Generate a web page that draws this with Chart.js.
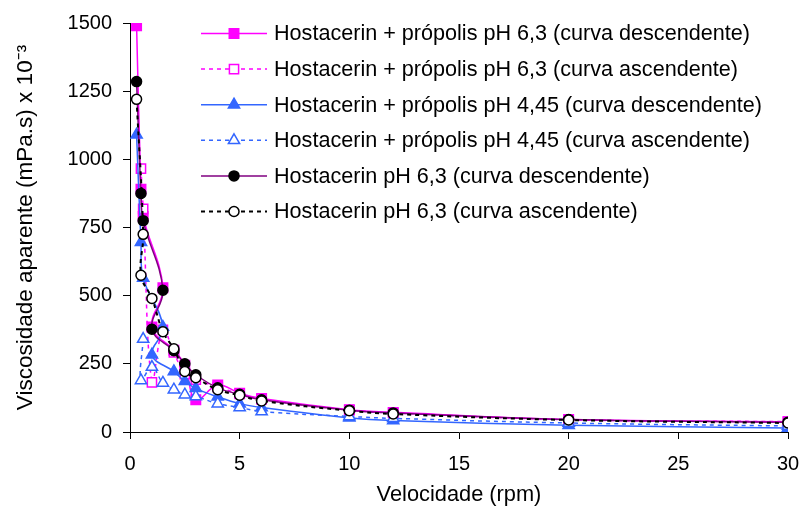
<!DOCTYPE html>
<html>
<head>
<meta charset="utf-8">
<script src="https://cdn.jsdelivr.net/npm/chart.js@4.4.1/dist/chart.umd.min.js"></script>
<style>
html,body{margin:0;padding:0;background:#fff;}
#wrap{width:802px;height:518px;}
</style>
</head>
<body>
<div id="wrap"><canvas id="c" width="802" height="518"></canvas></div>
<script>
// ---- Data ----
const seriesLabels = [
  'Hostacerin + própolis pH 6,3 (curva descendente)',
  'Hostacerin + própolis pH 6,3 (curva ascendente)',
  'Hostacerin + própolis pH 4,45 (curva descendente)',
  'Hostacerin + própolis pH 4,45 (curva ascendente)',
  'Hostacerin pH 6,3 (curva descendente)',
  'Hostacerin pH 6,3 (curva ascendente)'
];
// speeds (rpm), in the order the points are joined in the picture
const pinkDescX  = [0.3, 0.5, 0.6, 1.5, 1.0, 2.0, 2.5, 3.0, 4, 5, 6, 10, 12, 20, 30];
const pinkDescY  = [1490, 890, 790, 529, 385, 300, 245, 118, 172, 142, 123, 82, 72, 46, 38];
const pinkAscX   = [0.5, 0.6, 1.0, 1.5, 2.0, 2.5, 3.0, 4, 5, 6, 10, 12, 20, 30];
const pinkAscY   = [966, 818, 182, 375, 292, 212, 192, 165, 140, 120, 80, 70, 45, 38];
const blueDescX  = [0.3, 0.5, 0.6, 1.5, 1.0, 2.0, 2.5, 3.0, 4, 5, 6, 10, 12, 20, 30];
const blueDescY  = [1090, 696, 565, 385, 283, 222, 186, 160, 129, 104, 90, 52, 42, 25, 15];
const blueAscX   = [0.6, 0.5, 1.0, 1.5, 2.0, 2.5, 3.0, 4, 5, 6, 10, 12, 20, 30];
const blueAscY   = [341, 189, 238, 180, 155, 137, 130, 104, 90, 75, 57, 50, 33, 22];
const blackDescX = [0.3, 0.5, 0.6, 1.5, 1.0, 2.0, 2.5, 3.0, 4, 5, 6, 10, 12, 20, 30];
const blackDescY = [1285, 875, 775, 520, 377, 298, 250, 210, 162, 138, 118, 80, 70, 46, 36];
const blackAscX  = [0.3, 0.6, 0.5, 1.0, 1.5, 2.0, 2.5, 3.0, 4, 5, 6, 10, 12, 20, 30];
const blackAscY  = [1220, 725, 575, 490, 368, 305, 222, 199, 155, 135, 114, 78, 66, 44, 33];

const xTickValues = [0, 5, 10, 15, 20, 25, 30];
const yTickValues = [0, 250, 500, 750, 1000, 1250, 1500];

const xTitle = 'Velocidade (rpm)';
const yTitle = 'Viscosidade aparente (mPa.s) x 10\u207B\u00B3';

// ---- Build ----
const pts = (xs, ys) => xs.map((x, i) => ({x: x, y: ys[i]}));
const FONT = '"Liberation Sans", Arial, sans-serif';
const MAG = '#FF00FF', BLUE = '#3366FF', PURP = '#800080';

function ds(label, xs, ys, o) {
  return Object.assign({
    label: label,
    data: pts(xs, ys),
    showLine: true,
    tension: 0.4,
    borderWidth: 1.5,
    pointBorderWidth: 1.5,
    pointRadius: 5,
    pointHoverRadius: 5
  }, o);
}

const datasets = [
  ds(seriesLabels[0], pinkDescX, pinkDescY, {borderColor: MAG, pointStyle: 'rect', pointRadius: 6.7, pointBackgroundColor: MAG, pointBorderColor: MAG, order: 5}),
  ds(seriesLabels[1], pinkAscX, pinkAscY, {borderColor: MAG, borderDash: [4, 4], pointStyle: 'rect', pointRadius: 6.5, pointBackgroundColor: '#fff', pointBorderColor: MAG, order: 4}),
  ds(seriesLabels[2], blueDescX, blueDescY, {borderColor: BLUE, pointStyle: 'triangle', pointRadius: 6.5, pointBackgroundColor: BLUE, pointBorderColor: BLUE, order: 3}),
  ds(seriesLabels[3], blueAscX, blueAscY, {borderColor: BLUE, borderDash: [4, 4], pointStyle: 'triangle', pointRadius: 6.5, pointBackgroundColor: '#fff', pointBorderColor: BLUE, order: 2}),
  ds(seriesLabels[4], blackDescX, blackDescY, {borderColor: PURP, pointStyle: 'circle', pointRadius: 5, pointBackgroundColor: '#000', pointBorderColor: '#000', order: 1}),
  ds(seriesLabels[5], blackAscX, blackAscY, {borderColor: '#000', borderWidth: 2, borderDash: [4, 4], pointStyle: 'circle', pointRadius: 5, pointBackgroundColor: '#fff', pointBorderColor: '#000', order: 0})
];

function drawMarker(ctx, d, x, y) {
  ctx.save();
  ctx.fillStyle = d.pointBackgroundColor;
  ctx.strokeStyle = d.pointBorderColor;
  ctx.lineWidth = d.pointBorderWidth;
  ctx.setLineDash([]);
  if (Chart.helpers && Chart.helpers.drawPoint) {
    Chart.helpers.drawPoint(ctx, {pointStyle: d.pointStyle, radius: d.pointRadius, borderWidth: d.pointBorderWidth, rotation: 0}, x, y);
  }
  ctx.restore();
}

const inlineLegend = {
  id: 'inlineLegend',
  afterDraw(chart) {
    const ctx = chart.ctx;
    ctx.save();
    chart.data.datasets.forEach((d, i) => {
      const y = 33.5 + i * 35.6;
      ctx.strokeStyle = d.borderColor;
      ctx.lineWidth = d.borderWidth;
      ctx.setLineDash(d.borderDash || []);
      ctx.beginPath();
      ctx.moveTo(201, y);
      ctx.lineTo(267, y);
      ctx.stroke();
      ctx.setLineDash([]);
      drawMarker(ctx, d, 234, y);
      ctx.fillStyle = '#000';
      ctx.font = '21.6px ' + FONT;
      ctx.textAlign = 'left';
      ctx.textBaseline = 'middle';
      ctx.fillText(d.label, 274, y + 1);
    });
    ctx.restore();
  }
};

new Chart(document.getElementById('c'), {
  type: 'scatter',
  data: {datasets: datasets},
  plugins: [inlineLegend],
  options: {
    responsive: false,
    animation: false,
    layout: {padding: {top: 20, right: 14, left: 0, bottom: 0}},
    plugins: {legend: {display: false}, tooltip: {enabled: false}},
    scales: {
      x: {
        type: 'linear', min: 0, max: 30,
        afterBuildTicks: (s) => { s.ticks = xTickValues.map(v => ({value: v})); },
        afterFit: (s) => { s.height = 86; s.paddingRight = 0; s.paddingLeft = 0; },
        ticks: {color: '#000', font: {family: FONT, size: 20}, padding: 13, maxRotation: 0,
                callback: (v) => String(v)},
        grid: {drawOnChartArea: false, drawTicks: true, tickLength: 7, color: '#000'},
        border: {color: '#000', width: 1},
        title: {display: true, text: xTitle, color: '#000', font: {family: FONT, size: 21.8}, padding: {top: 0, bottom: 10}}
      },
      y: {
        type: 'linear', min: 0, max: 1500,
        afterBuildTicks: (s) => { s.ticks = yTickValues.map(v => ({value: v})); },
        afterFit: (s) => { s.width = 130; },
        ticks: {color: '#000', font: {family: FONT, size: 20}, padding: 11,
                callback: (v) => String(v)},
        grid: {drawOnChartArea: false, drawTicks: true, tickLength: 7, color: '#000'},
        border: {color: '#000', width: 1},
        title: {display: true, text: yTitle, color: '#000', font: {family: FONT, size: 22.5}, padding: {top: 12, bottom: 0}}
      }
    }
  }
});
</script>
</body>
</html>
